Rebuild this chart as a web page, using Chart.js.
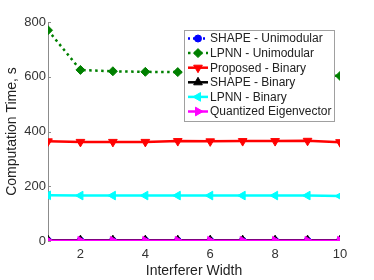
<!DOCTYPE html>
<html><head><meta charset="utf-8">
<script src="https://cdn.jsdelivr.net/npm/chart.js@4.4.0/dist/chart.umd.min.js"></script>
<style>html,body{margin:0;padding:0;background:#fff}#wrap{width:374px;height:280px}</style>
</head><body><div id="wrap"><canvas id="c" width="374" height="280"></canvas></div>
<script>
const widths = [1,2,3,4,5,6,7,8,9,10];
const xTicks = [2,4,6,8,10];
const yTicks = [0,200,400,600,800];
const shapeUni = [1,1,1,1,1,1,1,1,1,1];
const lpnnUni = [770,625,620,618,617,615,613,611,609,603];
const propBin = [364,362,362,362,365,364,365,365,366,361];
const shapeBin = [3,3,3,3,3,3,3,3,3,3];
const lpnnBin = [167,166,166,166,166,166,166,166,166,164];
const quantEig = [1,1,1,1,1,1,1,1,1,1];
const names = ['SHAPE - Unimodular','LPNN - Unimodular','Proposed - Binary','SHAPE - Binary','LPNN - Binary','Quantized Eigenvector'];

const pts = a => a.map((v,i)=>({x:widths[i],y:v}));
const FONT = 'Liberation Sans, Arial, sans-serif';

const specs = [
 {data:shapeUni,color:'#0000ff',style:'circle',rot:0,dash:[2,3],r:3.5},
 {data:lpnnUni,color:'#008000',style:'rectRot',rot:0,dash:[2.5,3.5],r:4.5},
 {data:propBin,color:'#ff0000',style:'triangle',rot:180,dash:[],r:5},
 {data:shapeBin,color:'#000000',style:'triangle',rot:0,dash:[],r:5},
 {data:lpnnBin,color:'#00ffff',style:'triangle',rot:-90,dash:[],r:5},
 {data:quantEig,color:'#ff00ff',style:'triangle',rot:90,dash:[],r:5}
];
const datasets = specs.map((s,i)=>({
  label:names[i], data:pts(s.data), borderColor:s.color, backgroundColor:s.color,
  borderWidth:2.5, borderDash:s.dash, pointStyle:s.style, pointRotation:s.rot,
  pointRadius:s.r, pointBorderWidth:1, pointBorderColor:s.color, pointBackgroundColor:s.color,
  tension:0, fill:false, order:5-i
}));

const tickPlugin = {
  id:'inTicks',
  afterDatasetsDraw(chart){
    const ctx=chart.ctx, y=chart.scales.y, x0=chart.chartArea.left;
    ctx.save(); ctx.strokeStyle='#8c8c8c'; ctx.lineWidth=1;
    yTicks.forEach(v=>{const py=Math.round(y.getPixelForValue(v))+0.5;
      ctx.beginPath(); ctx.moveTo(x0,py); ctx.lineTo(x0+3,py); ctx.stroke();});
    ctx.restore();
  }
};

const legendPlugin = {
  id:'boxLegend',
  afterDatasetsDraw(chart){
    const ctx = chart.ctx;
    const x0=184, y0=30, w=150, h=91, rowH=14.6;
    ctx.save();
    ctx.fillStyle='#fff'; ctx.fillRect(x0,y0,w,h);
    ctx.strokeStyle='#a0a0a0'; ctx.lineWidth=1; ctx.strokeRect(x0+0.5,y0+0.5,w,h);
    ctx.font='12px '+FONT; ctx.textBaseline='middle'; ctx.textAlign='left';
    chart.data.datasets.forEach((ds,i)=>{
      const s = specs[i];
      const cy = y0+8.5+i*rowH;
      ctx.strokeStyle=s.color; ctx.lineWidth=2.5; ctx.setLineDash(s.dash);
      ctx.beginPath(); ctx.moveTo(x0+4,cy); ctx.lineTo(x0+24,cy); ctx.stroke();
      ctx.setLineDash([]);
      ctx.fillStyle=s.color; ctx.strokeStyle=s.color; ctx.lineWidth=1;
      Chart.helpers.drawPoint(ctx,{pointStyle:s.style,rotation:s.rot,radius:s.r,borderWidth:1},x0+14,cy);
      ctx.fillStyle='#222';
      ctx.fillText(ds.label,x0+26,cy+0.5);
    });
    ctx.restore();
  }
};

new Chart(document.getElementById('c'),{
  type:'line',
  data:{datasets},
  plugins:[tickPlugin,legendPlugin],
  options:{
    responsive:false, animation:false, devicePixelRatio:1,
    layout:{padding:{top:22,right:34,left:4,bottom:0}},
    plugins:{legend:{display:false},tooltip:{enabled:false}},
    scales:{
      x:{type:'linear',min:1,max:10,
        afterBuildTicks(a){a.ticks=xTicks.map(v=>({value:v}));},
        afterFit(a){a.height=39;},
        grid:{display:false,drawTicks:false},
        border:{display:false},
        ticks:{color:'#333',font:{family:FONT,size:13},padding:6,maxRotation:0},
        title:{display:true,text:'Interferer Width',color:'#222',font:{family:FONT,size:14},padding:{top:0,bottom:0}}
      },
      y:{type:'linear',min:0,max:800,
        afterBuildTicks(a){a.ticks=yTicks.map(v=>({value:v}));},
        afterFit(a){a.width=44;},
        grid:{display:false,drawTicks:false},
        border:{display:true,color:'#8c8c8c',width:1},
        ticks:{color:'#333',font:{family:FONT,size:13},padding:2},
        title:{display:true,text:'Computation Time, s',color:'#222',font:{family:FONT,size:14},padding:{top:0,bottom:2}}
      }
    }
  }
});
</script></body></html>
